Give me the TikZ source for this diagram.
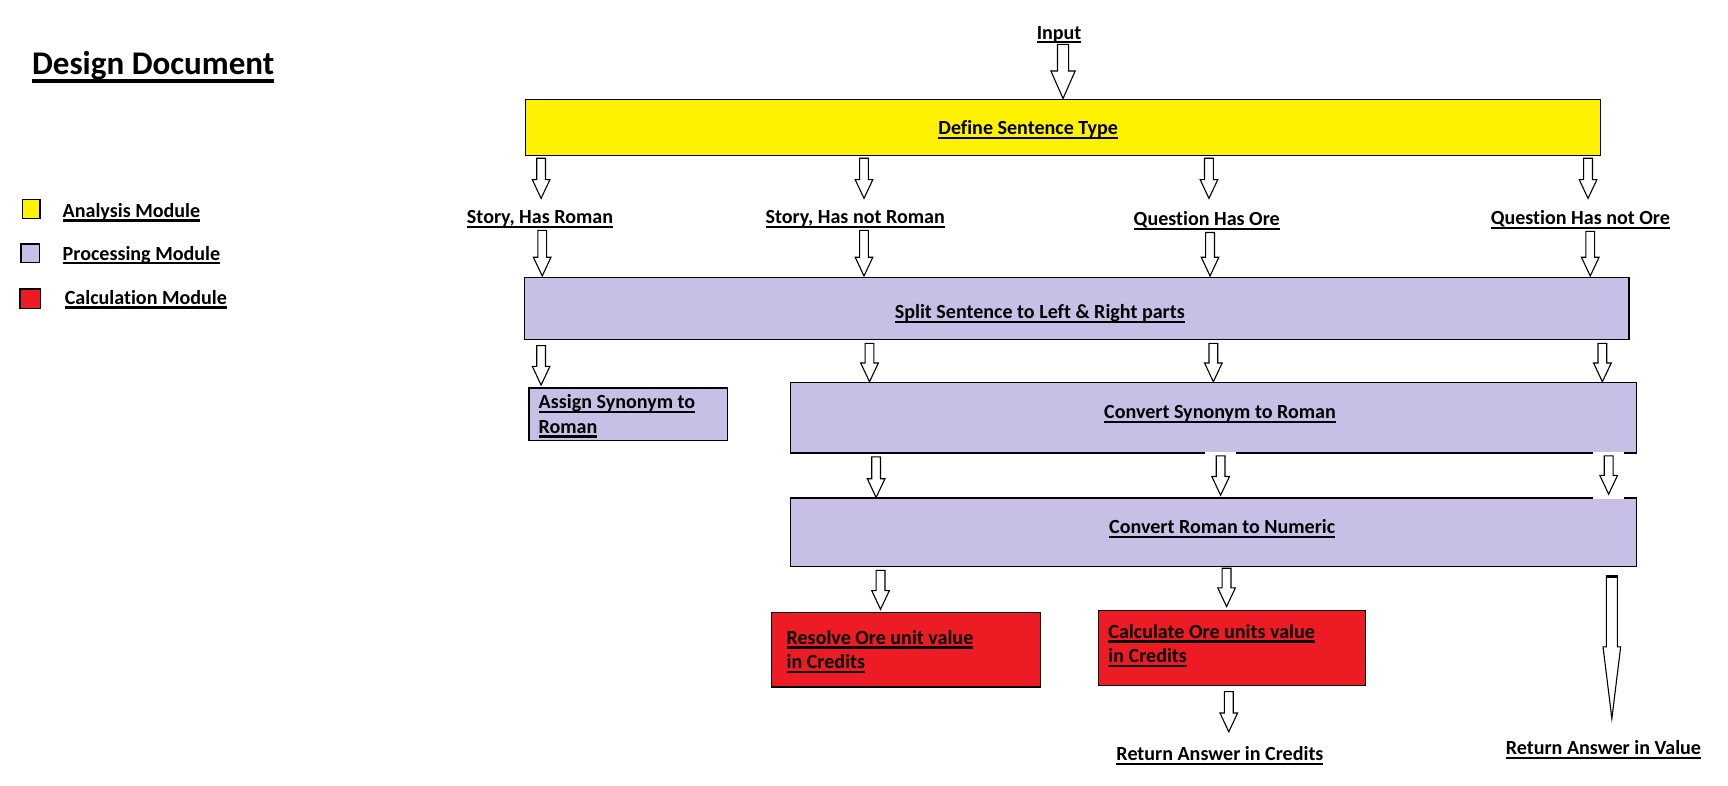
\documentclass[tikz,border=0pt]{standalone}
\usepackage{fontspec}
\setmainfont{Carlito}[Ligatures={NoCommon}]
\usetikzlibrary{calc}
\definecolor{ayellow}{HTML}{FFF200}
\definecolor{plav}{HTML}{C8BFE7}
\definecolor{cred}{HTML}{ED1C24}
\newcommand\myul[1]{\setbox0\hbox{#1}\leavevmode\rlap{\rule[-2pt]{\wd0}{1pt}}\box0}
\newcommand\myult[1]{\setbox0\hbox{#1}\leavevmode\rlap{\rule[-3.5pt]{\wd0}{1.5pt}}\box0}
% block arrow: start, end, shaft half width, head half width, head length
\newcommand\barrow[5]{\draw[barr] let \p1=#1, \p2=#2 in
  (\x1-#3,\y1) -- (\x1+#3,\y1) -- (\x1+#3,\y2+#5) -- (\x1+#4,\y2+#5) -- (\x1,\y2)
  -- (\x1-#4,\y2+#5) -- (\x1-#3,\y2+#5) -- cycle;}
\newcommand\sarrow[2]{\barrow{#1}{#2}{2pt}{4pt}{8.5pt}}
\begin{document}
\begin{tikzpicture}[x=0.5pt,y=-0.5pt,
  font=\fontsize{9.1pt}{11pt}\selectfont\bfseries,
  box/.style={draw=black,line width=0.6pt,inner sep=0pt},
  lbl/.style={inner sep=0pt,anchor=base},
  lgd/.style={inner sep=0pt,anchor=base west},
  two/.style={inner sep=0pt,anchor=base west,align=left},
  sq/.style={draw=black,line width=0.6pt,inner sep=0pt},
  barr/.style={draw=black,fill=white,line width=0.5pt,line join=miter},
  gap/.style={draw=white,line width=1.6pt}]
\useasboundingbox (0,0) rectangle (1568,713);
\fill[white] (0,0) rectangle (1568,713);

% title and legend
\node[lgd,font=\fontsize{15pt}{18pt}\selectfont\bfseries] (title) at (28.7,68) {\myult{Design Document}};
\node[sq,fill=ayellow,minimum width=8pt,minimum height=8.75pt] (sqa) at (28.2,189.6) {};
\node[sq,fill=plav,minimum width=8.5pt,minimum height=8.5pt] (sqp) at (27.5,229.9) {};
\node[sq,fill=cred,minimum width=9.4pt,minimum height=9pt] (sqc) at (27.5,271.2) {};
\node[lgd] (la) at (56.5,197) {\myul{Analysis Module}};
\node[lgd] (lp) at (56.5,236) {\myul{Processing Module}};
\node[lgd] (lc) at (58.4,276) {\myul{Calculation Module}};

% boxes
\node[box,fill=ayellow,minimum width=487.5pt,minimum height=25.5pt] (def) at (964.5,115.5) {};
\node[lbl] (deft) at ($(def.center)+(-31.5,6.5)$) {\myul{Define Sentence Type}};
\node[box,fill=plav,minimum width=501pt,minimum height=28pt] (split) at (977,280) {};
\node[lbl] (splitt) at ($(split.center)+(-33.5,9)$) {\myul{Split Sentence to Left \& Right parts}};
\node[box,fill=plav,minimum width=90pt,minimum height=24pt] (assign) at (570,376) {};
\node[two] (assignt) at ($(assign.west)+(9,17)$) {\myul{Assign Synonym to}\\\myul{Roman}};
\node[box,fill=plav,minimum width=384pt,minimum height=32pt] (cs) at (1101,379) {};
\node[lbl] (cst) at ($(cs.center)+(6,1)$) {\myul{Convert Synonym to Roman}};
\node[box,fill=plav,minimum width=384pt,minimum height=31pt] (cr) at (1101,483) {};
\node[lbl] (crt) at ($(cr.center)+(8,1)$) {\myul{Convert Roman to Numeric}};
\node[box,fill=cred,minimum width=122pt,minimum height=34pt] (res) at (822,589.5) {};
\node[two] (rest) at ($(res.west)+(14,17)$) {\myul{Resolve Ore unit value}\\\myul{in Credits}};
\node[box,fill=cred,minimum width=121pt,minimum height=34pt] (calc) at (1118,588) {};
\node[two] (calct) at ($(calc.west)+(9,13)$) {\myul{Calculate Ore units value}\\\myul{in Credits}};

% texts
\node[lbl] (inp) at (961,35.4) {\myul{Input}};
\node[lbl] (s1) at (490,203) {\myul{Story, Has Roman}};
\node[lbl] (s2) at (776,203) {\myul{Story, Has not Roman}};
\node[lbl] (q1) at (1095,205) {\myul{Question Has Ore}};
\node[lbl] (q2) at (1434,204) {\myul{Question Has not Ore}};
\node[lbl] (retc) at (1107,690) {\myul{Return Answer in Credits}};
\node[lbl] (retv) at (1455,685) {\myul{Return Answer in Value}};

% white gaps in borders
\draw[gap] (cs.south -| 1093,0) -- (cs.south -| 1121.5,0);
\draw[gap] (cs.south -| 1445.7,0) -- (cs.south -| 1473.6,0);
\draw[gap] (cr.north -| 1445.7,0) -- (cr.north -| 1473.6,0);

% arrows
\barrow{($(inp.base -| 964.6,0)+(0,4.8)$)}{(def.north -| 964.6,0)}{2.5pt}{5.5pt}{12.5pt}
\sarrow{($(def.south -| 491,0)+(0,2)$)}{($(s1.base -| 491,0)+(0,-23)$)}
\sarrow{($(def.south -| 784,0)+(0,2)$)}{($(s2.base -| 784,0)+(0,-23)$)}
\sarrow{($(def.south -| 1097,0)+(0,2)$)}{($(q1.base -| 1097,0)+(0,-25)$)}
\sarrow{($(def.south -| 1441,0)+(0,2)$)}{($(q2.base -| 1441,0)+(0,-24)$)}
\sarrow{($(s1.base -| 492,0)+(0,6)$)}{($(split.north -| 492,0)+(0,-1)$)}
\sarrow{($(s2.base -| 784,0)+(0,6)$)}{($(split.north -| 784,0)+(0,-1)$)}
\sarrow{($(q1.base -| 1098,0)+(0,6)$)}{($(split.north -| 1098,0)+(0,-1)$)}
\sarrow{($(q2.base -| 1443,0)+(0,6)$)}{($(split.north -| 1443,0)+(0,-1)$)}
\sarrow{($(split.south -| 491,0)+(0,5)$)}{($(assign.north -| 491,0)+(0,-2)$)}
\sarrow{($(split.south -| 789,0)+(0,3)$)}{(cs.north -| 789,0)}
\sarrow{($(split.south -| 1101,0)+(0,3)$)}{(cs.north -| 1101,0)}
\sarrow{($(split.south -| 1454,0)+(0,3)$)}{(cs.north -| 1454,0)}
\sarrow{($(cs.south -| 795,0)+(0,3)$)}{(cr.north -| 795,0)}
\sarrow{($(cs.south -| 1107.6,0)+(0,2)$)}{($(cr.north -| 1107.6,0)+(0,-2)$)}
\sarrow{($(cs.south -| 1459.7,0)+(0,2)$)}{($(cr.north -| 1459.7,0)+(0,-3)$)}
\sarrow{($(cr.south -| 799,0)+(0,3)$)}{($(res.north -| 799,0)+(0,-2)$)}
\sarrow{($(cr.south -| 1113,0)+(0,1)$)}{($(calc.north -| 1113,0)+(0,-3)$)}
\sarrow{($(calc.south -| 1115,0)+(0,5)$)}{($(retc.base -| 1115,0)+(0,-26)$)}
\barrow{($(cr.south -| 1462.6,0)+(0,7.7)$)}{($(retv.base -| 1462.6,0)+(0,-33)$)}{2.5pt}{4pt}{32.5pt}
\draw[line width=1.5pt] ($(cr.south -| 1462.6,0)+(-5,8.5)$) -- ($(cr.south -| 1462.6,0)+(5,8.5)$);
\end{tikzpicture}
\end{document}
